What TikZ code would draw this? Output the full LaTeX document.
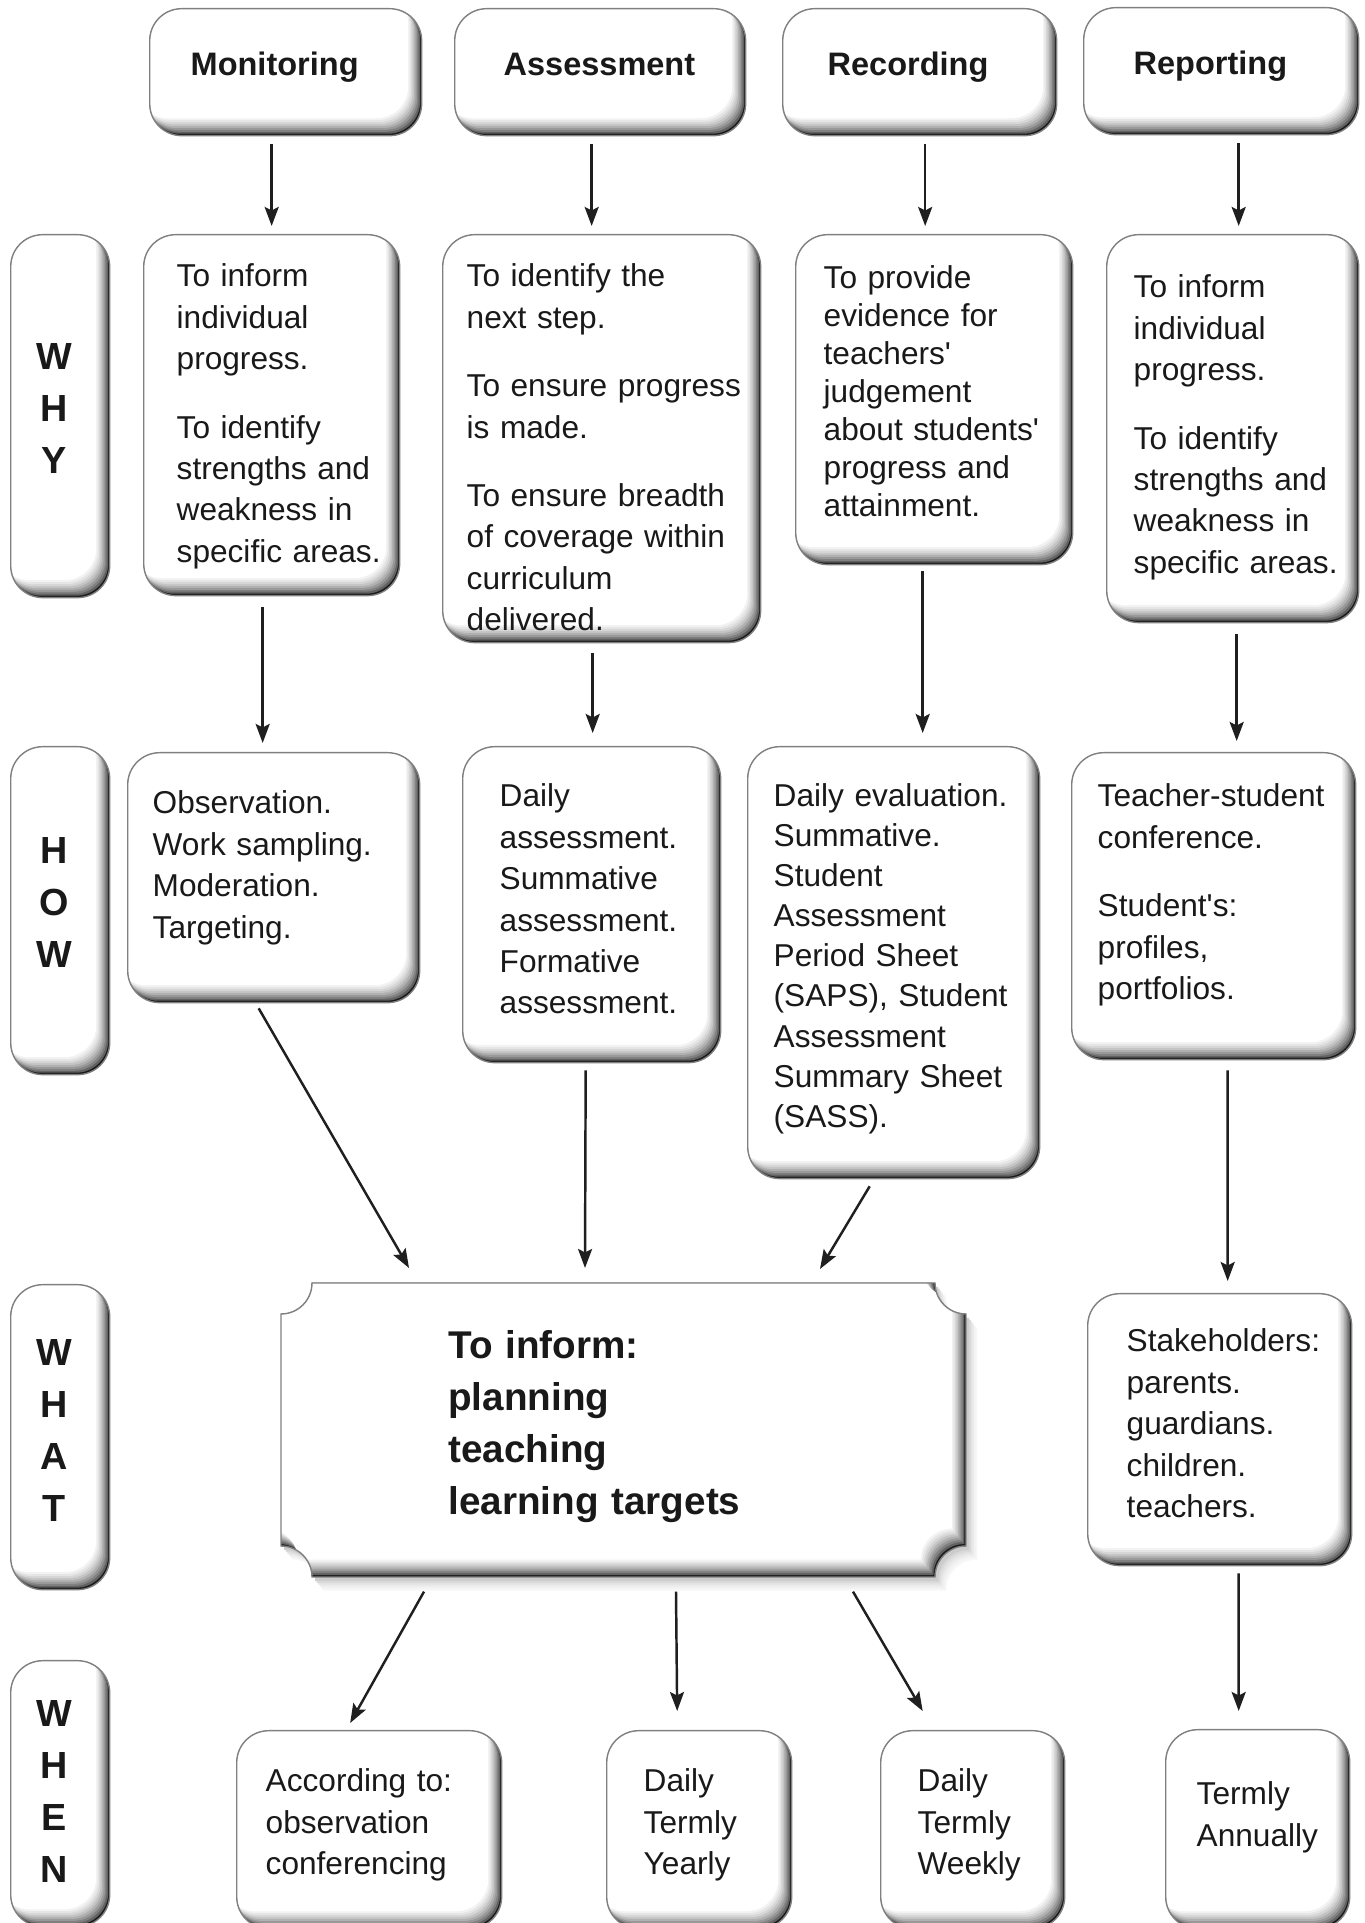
\documentclass[tikz,border=0pt]{standalone}
\usepackage{fontspec}
\setmainfont{Liberation Sans}
\usetikzlibrary{arrows.meta,calc}

\newcommand{\bodyfont}{\fontsize{18}{23.6}\selectfont}
\newcommand{\hdfont}{\bfseries\fontsize{18.5}{22}\selectfont}
\newcommand{\sidefont}{\bfseries\fontsize{21.5}{29.6}\selectfont}
\newcommand{\informfont}{\bfseries\fontsize{22}{29.6}\selectfont}

% concave-cornered frame of the central box
\newcommand{\informoutline}{(312,640) -- (935,640) arc[start angle=180,end angle=270,radius=0.62cm]
  -- (966,377) arc[start angle=90,end angle=180,radius=0.62cm]
  -- (312,346) arc[start angle=0,end angle=90,radius=0.62cm]
  -- (281,609) arc[start angle=270,end angle=360,radius=0.62cm] -- cycle}

\tikzset{
  bevel/.style={draw=black!50,line width=0.8pt,fill=black!90,rounded corners=0.64cm,
    path picture={
      \foreach \i/\g in {1/62,2/50,3/40,4/31,5/23,6/16,7/10,8/5,9/0}
        \fill[black!\g,rounded corners=0.64cm]
          ([shift={(-\i*0.85pt,\i*1.1pt)}]path picture bounding box.south west) rectangle
          ([shift={(-\i*0.85pt,\i*1.1pt)}]path picture bounding box.north east);
    }},
  hdbox/.style={bevel,anchor=north west,inner sep=0pt,align=left,font=\hdfont,text=black!90,
    text width=#1,text height=1.34cm,text depth=1.2cm},
  sidebox/.style={bevel,anchor=north west,inner sep=0pt,align=center,font=\sidefont,
    text=black!90,text width=1.98cm,
    execute at begin node={\leftskip=0pt plus 1fil\rightskip=0.24cm plus 1fil\parfillskip=0pt}},
  txt/.style={bevel,anchor=north west,inner sep=0pt,align=left,font=\bodyfont,
    text=black!90,text width=#1},
  lpad/.style={execute at begin node={\leftskip=#1}},
  arrowline/.style={-{Stealth[length=0.38cm,width=0.28cm,inset=0.07cm]},line width=1.4pt,draw=black!88}
}

\begin{document}
\begin{tikzpicture}[x=0.02cm,y=0.02cm]

\path[use as bounding box,fill=white] (0,0) rectangle (1365,1923);

%%%%%%%%%%%%%%%%%%%%%% HEADINGS

\node (HMon) [hdbox=5.44cm,lpad=0.82cm] at (149,1915) {Monitoring};
\node (HAss) [hdbox=5.82cm,lpad=0.98cm] at (454,1915) {Assessment};
\node (HRec) [hdbox=5.48cm,lpad=0.9cm] at (782,1915) {Recording};
\node (HRep) [hdbox=5.5cm,lpad=1.0cm] at (1083,1916) {Reporting};

\node (Why) [sidebox,text height=2.7cm,text depth=4.56cm] at (10,1689) {W\\H\\Y};
\node (How) [sidebox,text height=2.34cm,text depth=4.22cm] at (10,1177) {H\\O\\W};
\node (What) [sidebox,text height=1.62cm,text depth=4.48cm] at (10,639) {W\\H\\A\\T};
\node (When) [sidebox,text height=1.32cm,text depth=4.0cm] at (10,263) {W\\H\\E\\N};

%%%%%%%%%%%%%%%%%%%%%% WHY

\node (YMon) [txt=5.12cm,lpad=0.66cm,text height=1.04cm,text depth=6.18cm] at (143,1689)
  {To inform\\individual\\progress.\\[0.54cm]To identify\\strengths and\\weakness in\\specific areas.};
\node (YAss) [txt=6.36cm,lpad=0.48cm,text height=1.04cm,text depth=7.12cm] at (442,1689)
  {To identify the\\next step.\\[0.54cm]To ensure progress\\is made.\\[0.54cm]To ensure breadth\\of coverage within\\curriculum\\delivered.};
\node (YRec) [txt=5.54cm,lpad=0.56cm,text height=1.08cm,text depth=5.52cm,
  font=\fontsize{18}{21.6}\selectfont] at (795,1689)
  {To provide\\evidence for\\teachers\textquotesingle\\judgement\\about students\textquotesingle\\progress and\\attainment.};
\node (YRep) [txt=5.04cm,lpad=0.54cm,text height=1.26cm,text depth=6.5cm] at (1106,1689)
  {To inform\\individual\\progress.\\[0.54cm]To identify\\strengths and\\weakness in\\specific areas.};

%%%%%%%%%%%%%%%%%%%%%% HOW

\node (WMon) [txt=5.84cm,lpad=0.5cm,text height=1.22cm,text depth=3.78cm] at (127,1171)
  {Observation.\\Work sampling.\\Moderation.\\Targeting.};
\node (WAss) [txt=5.16cm,lpad=0.74cm,text height=1.2cm,text depth=5.12cm] at (462,1177)
  {Daily\\assessment.\\Summative\\assessment.\\Formative\\assessment.};
\node (WRec) [txt=5.84cm,lpad=0.52cm,text height=1.2cm,text depth=7.44cm,
  font=\fontsize{18}{22.8}\selectfont] at (747,1177)
  {Daily evaluation.\\Summative.\\Student\\Assessment\\Period Sheet\\(SAPS), Student\\Assessment\\Summary Sheet\\(SASS).};
\node (WRep) [txt=5.68cm,lpad=0.52cm,text height=1.08cm,text depth=5.06cm] at (1071,1171)
  {Teacher-student\\conference.\\[0.54cm]Student\textquotesingle s:\\profiles,\\portfolios.};

%%%%%%%%%%%%%%%%%%%%%% WHAT

\foreach \i/\g in {7/3,6/5,5/8,4/11,3/15,2/20}
  \fill[black!\g,shift={(\i*0.9pt,-\i*1.1pt)}] \informoutline;
\begin{scope}
  \clip \informoutline;
  \fill[black!90] \informoutline;
  \foreach \i/\g in {1/62,2/50,3/40,4/31,5/23,6/16,7/10,8/5,9/0}
    \fill[black!\g,shift={(-\i*0.9pt,\i*1.1pt)}] \informoutline;
\end{scope}
\draw[black!50,line width=0.8pt] \informoutline;

\node (Inform) [anchor=north west,inner sep=0pt,align=left,font=\informfont,text=black!90,
  text width=13.7cm,lpad=3.34cm,text height=1.5cm,text depth=4.38cm] at (281,640)
  {To inform:\\planning\\teaching\\learning targets};
\node (Stake) [txt=5.28cm,lpad=0.78cm,text height=1.16cm,text depth=4.28cm] at (1087,630)
  {Stakeholders:\\parents.\\guardians.\\children.\\teachers.};

%%%%%%%%%%%%%%%%%%%%%% WHEN

\node (NAcc) [txt=5.3cm,lpad=0.58cm,text height=1.22cm,text depth=2.74cm] at (236,193)
  {According to:\\observation\\conferencing};
\node (NDTY) [txt=3.7cm,lpad=0.74cm,text height=1.22cm,text depth=2.74cm] at (606,193)
  {Daily\\Termly\\Yearly};
\node (NDTW) [txt=3.68cm,lpad=0.74cm,text height=1.22cm,text depth=2.74cm] at (880,193)
  {Daily\\Termly\\Weekly};
\node (NTA) [txt=3.68cm,lpad=0.62cm,text height=1.5cm,text depth=2.48cm] at (1165,194)
  {Termly\\Annually};

%%%%%%%%%%%%%%%%%%%%%% ARROWS

\draw[arrowline] ($(YMon.north |- HMon.south)+(0,-8)$) -- ($(YMon.north)+(0,8)$);
\draw[arrowline] ($(YAss.north |- HAss.south)+(-10,-8)$) -- ($(YAss.north)+(-10,8)$);
\draw[arrowline] ($(YRec.north |- HRec.south)+(-9,-8)$) -- ($(YRec.north)+(-9,8)$);
\draw[arrowline] ($(YRep.north |- HRep.south)+(6,-8)$) -- ($(YRep.north)+(6,8)$);

\draw[arrowline] ($(WMon.north |- YMon.south)+(-11,-11)$) -- ($(WMon.north)+(-11,9)$);
\draw[arrowline] ($(WAss.north |- YAss.south)+(1,-10)$) -- ($(WAss.north)+(1,13)$);
\draw[arrowline] ($(WRec.north |- YRec.south)+(29,-6)$) -- ($(WRec.north)+(29,13)$);
\draw[arrowline] ($(WRep.north |- YRep.south)+(23,-11)$) -- ($(WRep.north)+(23,11)$);

\draw[arrowline] ($(WMon.south)+(-15,-5)$) -- ($(Inform.north west)+(128,15)$);
\draw[arrowline] ($(WAss.south)+(-6,-7)$) -- ($(Inform.north west)+(304,15)$);
\draw[arrowline] ($(WRec.south)+(-24,-7)$) -- ($(Inform.north west)+(539,14)$);
\draw[arrowline] ($(WRep.south)+(14,-10)$) -- ($(Stake.north)+(8,12)$);

\draw[arrowline] ($(Inform.south west)+(143,-14)$) -- ($(NAcc.north)+(-19,7)$);
\draw[arrowline] ($(Inform.south west)+(395,-14)$) -- ($(NDTY.north)+(-22,19)$);
\draw[arrowline] ($(Inform.south west)+(572,-14)$) -- ($(NDTW.north)+(-50,19)$);
\draw[arrowline] ($(Stake.south)+(19,-7)$) -- ($(NTA.north)+(-19,18)$);

\end{tikzpicture}
\end{document}
